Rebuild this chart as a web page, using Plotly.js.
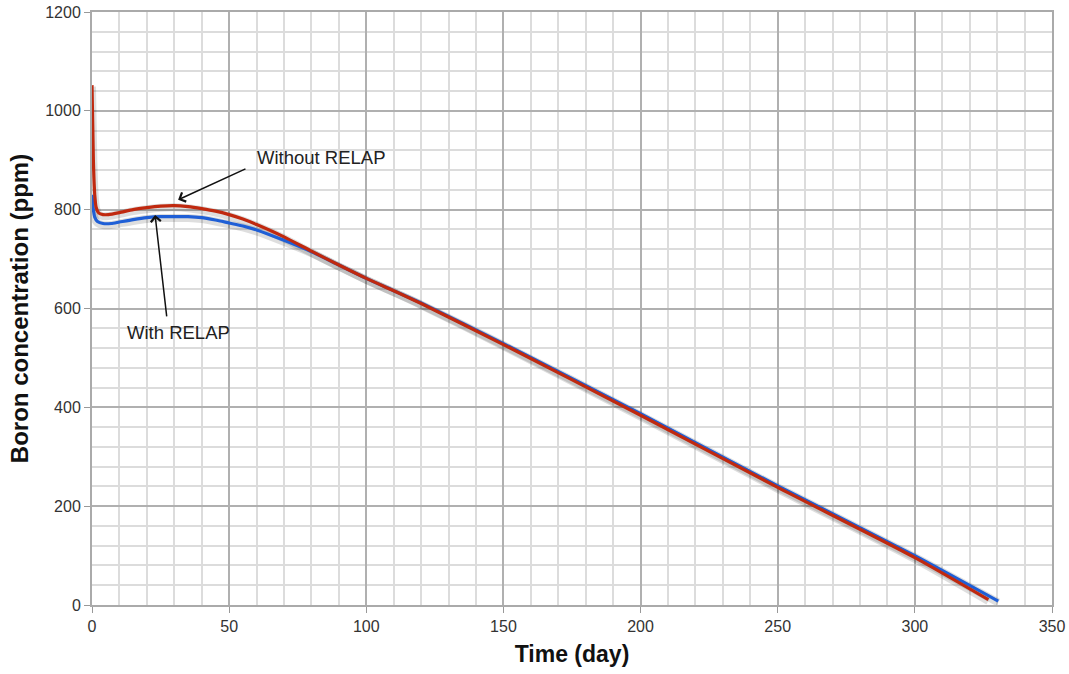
<!DOCTYPE html>
<html>
<head>
<meta charset="utf-8">
<script src="https://cdn.plot.ly/plotly-3.0.1.min.js"></script>
<style>html,body{margin:0;padding:0;background:#fff;}#chart{width:1069px;height:674px;}</style>
</head>
<body>
<div id="chart"></div>
<script>
// Without RELAP (red)
const daysWithout = [0, 0.5, 1, 1.5, 2.5, 4, 6, 10, 15, 20, 25, 30, 35, 40, 45, 50, 55, 60, 70, 80, 90, 100, 110, 120, 150, 200, 250, 300, 326.8];
const boronWithout = [1052, 900, 830, 805, 793, 790, 790, 794, 800, 804, 807, 808, 806, 802, 797, 790, 781, 770, 745, 716, 688, 661, 636, 610, 527, 384, 238, 96, 11];
// With RELAP (blue)
const daysWith = [0, 0.5, 1, 2, 4, 7, 10, 15, 20, 25, 30, 35, 40, 45, 50, 55, 60, 70, 80, 90, 100, 110, 120, 150, 200, 250, 300, 330.4];
const boronWith = [830, 800, 785, 776, 772, 772, 775, 780, 784, 786, 786, 786, 784, 779, 773, 767, 759, 738, 715, 688, 661, 636, 611, 529, 387, 241, 100, 8];

const xTicks = [0, 50, 100, 150, 200, 250, 300, 350];
const yTicks = [0, 200, 400, 600, 800, 1000, 1200];

const shadow = 'rgba(0,0,0,0.13)';
const lineShape = {shape: 'spline', smoothing: 0.6};
const traces = [
  {x: daysWith, y: boronWith.map(v => v - 3), mode: 'lines', line: Object.assign({color: shadow, width: 8}, lineShape), hoverinfo: 'skip', showlegend: false},
  {x: daysWithout, y: boronWithout.map(v => v - 3), mode: 'lines', line: Object.assign({color: shadow, width: 8}, lineShape), hoverinfo: 'skip', showlegend: false},
  {x: daysWith, y: boronWith, mode: 'lines', name: 'With RELAP', line: Object.assign({color: '#1f5fd6', width: 3.2}, lineShape)},
  {x: daysWithout, y: boronWithout, mode: 'lines', name: 'Without RELAP', line: Object.assign({color: '#c0290f', width: 3.2}, lineShape)}
];

const annFont = {family: 'Liberation Sans, Arial, sans-serif', size: 18.5, color: '#222'};
const layout = {
  width: 1069, height: 674,
  margin: {l: 92, r: 17, t: 12, b: 69},
  paper_bgcolor: '#fff', plot_bgcolor: '#fff',
  showlegend: false,
  font: {family: 'Liberation Sans, Arial, sans-serif', color: '#333'},
  xaxis: {
    range: [0, 350], tickvals: xTicks, ticktext: xTicks.map(String),
    tickfont: {size: 16, color: '#333'},
    ticks: 'outside', ticklen: 6, tickcolor: '#999',
    showgrid: true, gridcolor: '#b0b0b0', gridwidth: 2,
    minor: {dtick: 10, showgrid: true, gridcolor: '#dcdcdc', gridwidth: 2},
    showline: true, linecolor: '#aaa', linewidth: 2, mirror: true,
    zeroline: false,
    title: {text: '<b>Time (day)</b>', font: {size: 23, color: '#111'}, standoff: 12}
  },
  yaxis: {
    range: [0, 1200], tickvals: yTicks, ticktext: yTicks.map(String),
    tickfont: {size: 16, color: '#333'},
    ticks: 'outside', ticklen: 6, tickcolor: '#999',
    showgrid: true, gridcolor: '#b0b0b0', gridwidth: 2,
    minor: {dtick: 40, showgrid: true, gridcolor: '#dcdcdc', gridwidth: 2},
    showline: true, linecolor: '#aaa', linewidth: 2, mirror: true,
    zeroline: false,
    title: {text: '<b>Boron concentration (ppm)</b>', font: {size: 24, color: '#111'}, standoff: 10}
  },
  annotations: [
    {x: 59.4, y: 906, xref: 'x', yref: 'y', text: 'Without RELAP', showarrow: false, xanchor: 'left', yanchor: 'middle', font: annFont},
    {x: 31.4, y: 820, xref: 'x', yref: 'y', ax: 56.5, ay: 884, axref: 'x', ayref: 'y', text: '', showarrow: true, arrowhead: 4, arrowsize: 1.3, arrowwidth: 1.5, arrowcolor: '#111', standoff: 0, startstandoff: 0},
    {x: 31.7, y: 552, xref: 'x', yref: 'y', text: 'With RELAP', showarrow: false, xanchor: 'center', yanchor: 'middle', font: annFont},
    {x: 23, y: 789, xref: 'x', yref: 'y', ax: 27.3, ay: 581, axref: 'x', ayref: 'y', text: '', showarrow: true, arrowhead: 4, arrowsize: 1.3, arrowwidth: 1.5, arrowcolor: '#111', standoff: 0, startstandoff: 0}
  ]
};
Plotly.newPlot('chart', traces, layout, {staticPlot: true, displayModeBar: false});
</script>
</body>
</html>
